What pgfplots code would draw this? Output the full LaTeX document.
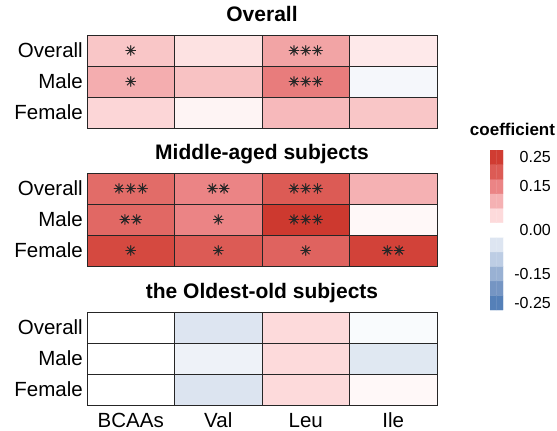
\documentclass[border=0pt]{standalone}
\usepackage{pgfplots}
\usepackage{pgfplotstable}
\pgfplotsset{compat=1.18}
\usepackage{fontspec}
\setmainfont{Liberation Sans}
\newfontfamily\djv[FakeBold=1.6]{DejaVu Sans}

\newcommand\onestar{{\djv ✳}}
\newcommand\stars[1]{\ifcase#1\or\onestar\or\onestar\onestar\or\onestar\onestar\onestar\fi}

\pgfplotsset{
  colormap={rb}{rgb255=(70,110,170) rgb255=(85,128,184) rgb255=(117,149,195)
    rgb255=(153,177,211) rgb255=(189,205,228) rgb255=(221,229,241)
    rgb255=(255,255,255) rgb255=(253,218,219) rgb255=(245,177,179)
    rgb255=(235,132,133) rgb255=(220,91,85) rgb255=(208,60,50) rgb255=(195,45,35)},
  hm/.style={
    scale only axis, width=350pt, height=93pt,
    xmin=-0.5, xmax=3.5, ymin=-0.5, ymax=2.5,
    enlargelimits=false,
    point meta min=-0.3, point meta max=0.3,
    xtick={0,1,2,3}, ytick={0,1,2},
    yticklabels={Female,Male,Overall},
    xticklabels={},
    major tick length=0pt, minor tick length=0pt,
    minor xtick={0.5,1.5,2.5}, minor ytick={0.5,1.5},
    xminorgrids, yminorgrids,
    minor grid style={black!85, line width=0.9pt},
    axis line style={black!85, line width=0.9pt},
    axis on top,
    tick label style={font=\fontsize{20.5}{24}\selectfont, inner sep=0pt},
    yticklabel style={anchor=east, xshift=-4pt},
    xticklabel style={anchor=base, yshift=-22.5pt},
    title style={font=\bfseries\fontsize{21}{24}\selectfont, at={(0.5,1)}, anchor=base, yshift=8pt},
  },
  st/.style={only marks, mark=none, point meta=explicit symbolic,
    nodes near coords={\stars{\pgfplotspointmeta}},
    every node near coord/.append style={anchor=center, inner sep=0pt,
      font=\fontsize{14}{14}\selectfont, text=black!85}},
}

% values: x (0 BCAAs,1 Val,2 Leu,3 Ile), y (0 Female,1 Male,2 Overall)
\pgfplotstableread{
x y c
0 0 0.055
1 0 0.015
2 0 0.09
3 0 0.075
0 1 0.105
1 1 0.08
2 1 0.16
3 1 -0.015
0 2 0.075
1 2 0.04
2 2 0.115
3 2 0.03
}\tA
\pgfplotstableread{
x y s
0 2 1
2 2 3
0 1 1
2 1 3
}\sA
\pgfplotstableread{
x y c
0 0 0.23
1 0 0.20
2 0 0.19
3 0 0.24
0 1 0.185
1 1 0.15
2 1 0.26
3 1 0.01
0 2 0.18
1 2 0.15
2 2 0.20
3 2 0.10
}\tB
\pgfplotstableread{
x y s
0 2 3
1 2 2
2 2 3
0 1 2
1 1 1
2 1 3
0 0 1
1 0 1
2 0 1
3 0 2
}\sB
\pgfplotstableread{
x y c
0 0 0.0
1 0 -0.052
2 0 0.05
3 0 0.01
0 1 0.0
1 1 -0.025
2 1 0.05
3 1 -0.045
0 2 0.0
1 2 -0.05
2 2 0.05
3 2 -0.008
}\tC
\pgfplotstableread{
x y c
0 -0.25 -0.25
1 -0.25 -0.25
0 -0.20 -0.20
1 -0.20 -0.20
0 -0.15 -0.15
1 -0.15 -0.15
0 -0.10 -0.10
1 -0.10 -0.10
0 -0.05 -0.05
1 -0.05 -0.05
0 0.00 0.00
1 0.00 0.00
0 0.05 0.05
1 0.05 0.05
0 0.10 0.10
1 0.10 0.10
0 0.15 0.15
1 0.15 0.15
0 0.20 0.20
1 0.20 0.20
0 0.25 0.25
1 0.25 0.25
}\tL

\begin{document}
\begin{tikzpicture}
\path[use as bounding box] (0,0) rectangle (557pt,-431pt);

\begin{axis}[hm, at={(87pt,-35pt)}, anchor=north west, title={Overall}]
\addplot[matrix plot*, mesh/cols=4, point meta=explicit] table[meta=c] {\tA};
\addplot[st] table[meta=s] {\sA};
\end{axis}

\begin{axis}[hm, at={(87pt,-173pt)}, anchor=north west, title={Middle-aged subjects}]
\addplot[matrix plot*, mesh/cols=4, point meta=explicit] table[meta=c] {\tB};
\addplot[st] table[meta=s] {\sB};
\end{axis}

\begin{axis}[hm, at={(87pt,-312pt)}, anchor=north west, title={the Oldest-old subjects},
  xticklabels={BCAAs,Val,Leu,Ile}]
\addplot[matrix plot*, mesh/cols=4, point meta=explicit] table[meta=c] {\tC};
\end{axis}

\begin{axis}[scale only axis, width=13pt, height=160pt,
  at={(490pt,-150pt)}, anchor=north west,
  xmin=-0.5, xmax=1.5, ymin=-0.275, ymax=0.275, enlargelimits=false,
  point meta min=-0.3, point meta max=0.3,
  axis line style={draw=none}, xtick=\empty,
  ytick={-0.25,-0.15,0,0.15,0.25},
  yticklabels={-0.25,-0.15,0.00,0.15,0.25},
  yticklabel pos=right, major tick length=0pt,
  tick label style={font=\fontsize{16}{18}\selectfont, inner sep=0pt},
  yticklabel style={anchor=east, xshift=48pt},
  title={coefficient},
  title style={font=\bfseries\fontsize{17}{18}\selectfont, at={(0.5,1)}, anchor=base, yshift=9pt, xshift=16pt},
  ]
\addplot[matrix plot*, mesh/cols=2, point meta=explicit] table[meta=c] {\tL};
\end{axis}
\end{tikzpicture}
\end{document}
